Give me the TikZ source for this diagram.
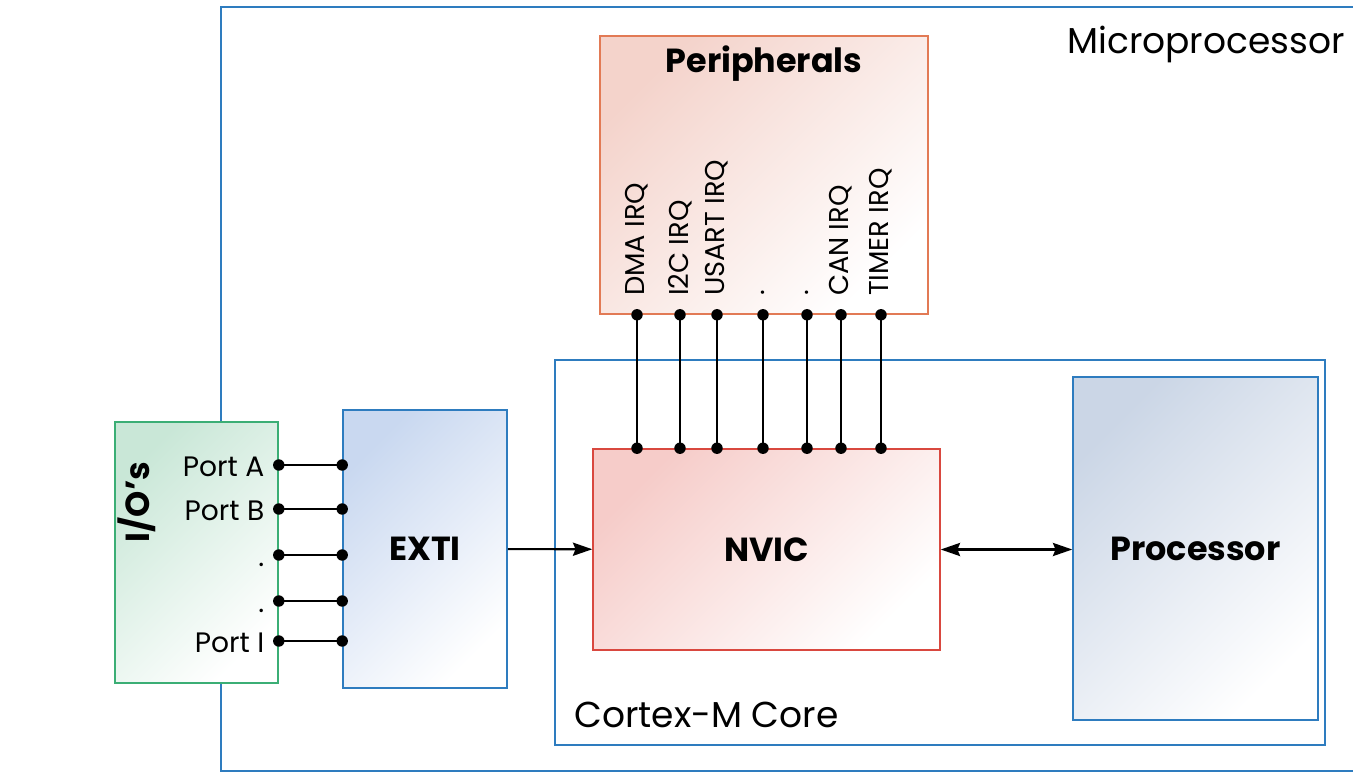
\documentclass[tikz,border=0pt]{standalone}
\usepackage{fontspec}
\setmainfont{Poppins}
\usetikzlibrary{arrows.meta}

\definecolor{frameblue}{HTML}{2E7CBF}
\definecolor{perborder}{HTML}{E27A55}
\definecolor{perfill}{HTML}{F4D3CB}
\definecolor{nvicborder}{HTML}{D9483F}
\definecolor{nvicfill}{HTML}{F6CCC9}
\definecolor{extifill}{HTML}{C9D8F0}
\definecolor{procfill}{HTML}{CBD6E6}
\definecolor{ioborder}{HTML}{3BAE75}
\definecolor{iofill}{HTML}{C9E7D7}

\begin{document}
\begin{tikzpicture}[x=0.02cm, y=-0.02cm,
    frame/.style={rectangle, draw=frameblue, line width=0.9pt, inner sep=0},
    block/.style 2 args={rectangle, draw=#1, line width=0.9pt, top color=#2, bottom color=white, shading angle=45, inner sep=0, font=\bfseries\fontsize{19}{23}\selectfont},
    caption/.style={font=\fontsize{20.5}{24}\selectfont, inner sep=0},
    boxtitle/.style={font=\bfseries\fontsize{19}{23}\selectfont},
    irq/.style={font=\fontsize{15.5}{18}\selectfont, rotate=90, anchor=west, inner sep=1pt},
    port/.style={font=\fontsize{16}{19}\selectfont, anchor=base east, xshift=-8pt, yshift=-6.5pt, inner sep=0},
    wire/.style={line width=1.2pt},
    dot/.style={circle, fill, inner sep=0, minimum size=6.5pt},
    arrow/.style={-{Stealth[length=11pt, width=7.5pt, inset=1.5pt]}, line width=1.2pt},
    dblarrow/.style={{Stealth[length=11pt, width=7.5pt, inset=1.5pt]}-{Stealth[length=11pt, width=7.5pt, inset=1.5pt]}, line width=1.2pt}
]
    \useasboundingbox (0,0) rectangle (1353,774);

    % Frames
    \node[frame, minimum width=22.88cm, minimum height=15.28cm] (micro) at (793,389) {};
    \node[caption, anchor=base east] (microlabel) at (1345,53) {Microprocessor};
    \node[frame, minimum width=15.4cm, minimum height=7.7cm] (core) at (940,552.5) {};
    \node[caption, anchor=base west] (corelabel) at (574,727) {Cortex-M Core};

    % Blocks
    \node[block={perborder}{perfill}, minimum width=6.56cm, minimum height=5.56cm] (periph) at (764,175) {};
    \node[boxtitle] (periphlabel) at (764,64) {Peripherals};
    \node[block={nvicborder}{nvicfill}, minimum width=6.94cm, minimum height=4.02cm] (nvic) at (766.5,549.5) {NVIC};
    \node[block={frameblue}{procfill}, minimum width=4.9cm, minimum height=6.86cm] (proc) at (1195.5,548.5) {Processor};
    \node[block={frameblue}{extifill}, minimum width=3.28cm, minimum height=5.56cm] (exti) at (425,549) {EXTI};
    \node[block={ioborder}{iofill}, minimum width=3.26cm, minimum height=5.22cm] (io) at (196.5,552.5) {};
    \node[boxtitle, rotate=90] (iolabel) at (137,502) {I/O’s};

    % Interrupt lines
    \foreach \x/\name in {637/DMA IRQ, 680/I2C IRQ, 717/USART IRQ, 763/., 807/., 841/CAN IRQ, 881/TIMER IRQ} {
        \node[irq] (irq\x) at (\x,298) {\name};
        \draw[wire] (periph.south -| \x,0) node[dot] {} -- (nvic.north -| \x,0) node[dot] {};
    }
    \foreach \y/\name in {465/Port A, 509/Port B, 555/., 601/., 641/Port I} {
        \draw[wire] (io.east |- 0,\y) node[dot] {} -- (exti.west |- 0,\y) node[dot] {};
        \node[port] (port\y) at (io.east |- 0,\y) {\name};
    }

    % Signals
    \draw[arrow] (exti) -- (nvic);
    \draw[dblarrow] (nvic.east) -- (nvic.east -| proc.west);
\end{tikzpicture}
\end{document}
